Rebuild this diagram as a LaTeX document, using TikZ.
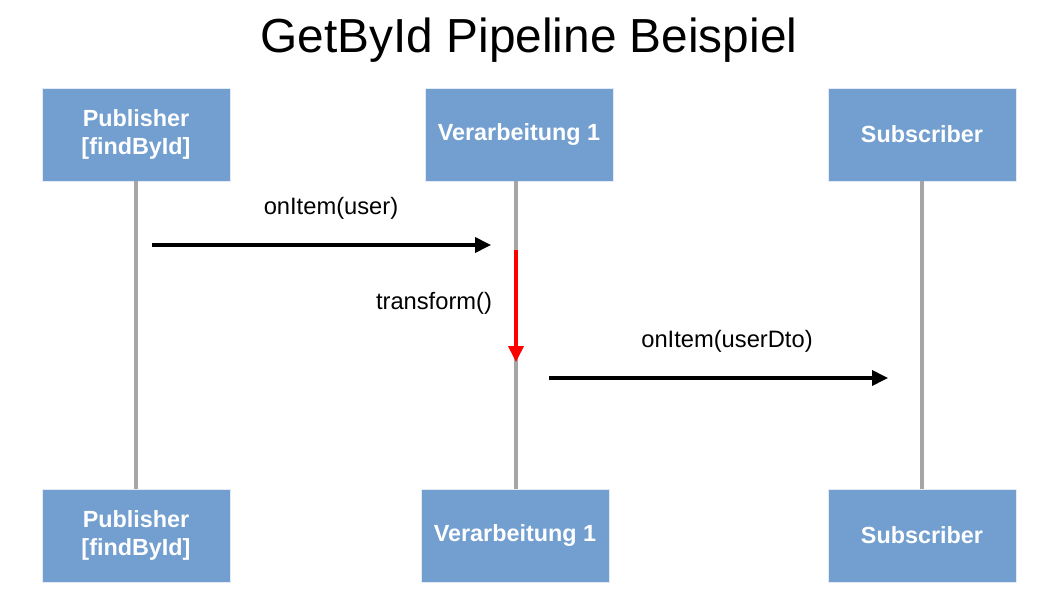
\documentclass[tikz,border=0pt]{standalone}
\usepackage{fontspec}
\setmainfont{Liberation Sans}
\usetikzlibrary{arrows.meta}
\definecolor{boxblue}{HTML}{729FCF}
\definecolor{boxedge}{HTML}{E4EBF6}
\definecolor{lifegray}{HTML}{A6A6A6}
\begin{document}
\begin{tikzpicture}[x=0.02cm,y=-0.02cm,
  actor/.style={draw=boxedge,line width=0.4pt,fill=boxblue,minimum width=188*0.02cm,minimum height=93*0.02cm,
    text=white,font=\fontsize{13.3}{16}\selectfont\bfseries,align=center,inner sep=0pt},
  life/.style={draw=lifegray,line width=1.8pt},
  msg/.style={draw=black,line width=1.9pt,-{Triangle[length=9pt,width=8.5pt]}},
  lbl/.style={font=\fontsize{13.5}{16}\selectfont,inner sep=0pt}]
\useasboundingbox (0,0) rectangle (1058,595);
\node[font=\fontsize{27.2}{32}\selectfont] (title) at (529,40) {GetById Pipeline Beispiel};
\node[actor] (pubT) at (136,134.5) {Publisher\\{}[findById]};
\node[actor] (verT) at (519,134.5) {Verarbeitung 1};
\node[actor] (subT) at (922,134.5) {Subscriber};
\node[actor] (pubB) at (136,535.5) {Publisher\\{}[findById]};
\node[actor] (verB) at (515,535.5) {Verarbeitung 1};
\node[actor] (subB) at (922,535.5) {Subscriber};
\coordinate (vtop) at (516,181);
\coordinate (vbot) at (516,489);
\draw[life] (pubT.south) -- (pubB.north);
\draw[life] (vtop) -- (vbot);
\draw[life] (subT.south) -- (subB.north);
\coordinate (a1s) at (152,245);
\coordinate (a1e) at (491,245);
\draw[msg] (a1s) -- (a1e);
\node[lbl] (l1) at (331,208) {onItem(user)};
\coordinate (ts) at (516,250);
\coordinate (te) at (516,362);
\draw[red,line width=1.9pt,-{Triangle[length=9pt,width=8.5pt]}] (ts) -- (te);
\node[lbl] (l2) at (434,303) {transform()};
\coordinate (a2s) at (549,378);
\coordinate (a2e) at (888,378);
\draw[msg] (a2s) -- (a2e);
\node[lbl] (l3) at (727,341) {onItem(userDto)};
\end{tikzpicture}
\end{document}
